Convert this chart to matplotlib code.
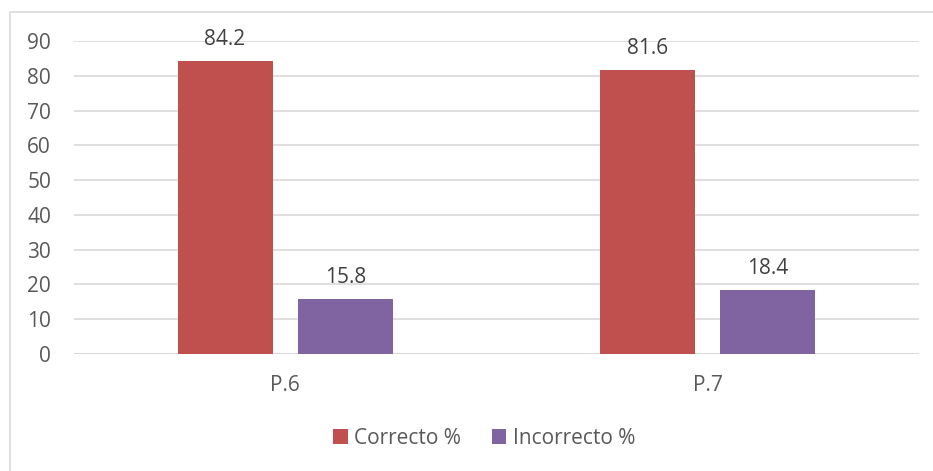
import matplotlib
matplotlib.use("Agg")
import matplotlib.pyplot as plt
from matplotlib.patches import Rectangle
import numpy as np

categories = ["P.6", "P.7"]
correcto = [84.2, 81.6]
incorrecto = [15.8, 18.4]
series_names = ["Correcto %", "Incorrecto %"]
colors = ["#C0504D", "#8064A2"]

plt.rcParams['font.family'] = ['Open Sans', 'DejaVu Sans']

fig = plt.figure(figsize=(9.33, 4.71), dpi=100)
ax = fig.add_axes([74/933, 1-354/471, (919-74)/933, (354-41)/471])

x = np.arange(len(categories))
w = 0.225
off = 0.1425
b1 = ax.bar(x - off, correcto, w, color=colors[0], label=series_names[0], zorder=3)
b2 = ax.bar(x + off, incorrecto, w, color=colors[1], label=series_names[1], zorder=3)

for bars, vals in ((b1, correcto), (b2, incorrecto)):
    for r, v in zip(bars, vals):
        ax.annotate(f"{v}", (r.get_x() + r.get_width()/2, v), xytext=(0, 8),
                    textcoords="offset points", ha="center", va="bottom",
                    fontsize=15, color="#404040")

ax.set_xlim(-0.5, 1.5)
ax.set_ylim(0, 90)
ax.set_yticks(range(0, 91, 10))
ax.set_xticks(x)
ax.set_xticklabels(categories)
ax.yaxis.grid(True, color="#D9D9D9", linewidth=1.2, zorder=0)
for s in ax.spines.values():
    s.set_visible(False)
ax.axhline(0, color="#D9D9D9", linewidth=1.2, zorder=1)
ax.tick_params(axis="both", length=0, labelsize=15, labelcolor="#595959")
ax.tick_params(axis="y", pad=16.5)
ax.tick_params(axis="x", pad=15)

leg = fig.legend(handles=[b1, b2], labels=series_names, loc="center",
                 bbox_to_anchor=(484/933, 1-438/471), ncol=2, frameon=False,
                 fontsize=15, handlelength=0.7, handleheight=0.7,
                 handletextpad=0.3, columnspacing=1.5)
for t in leg.get_texts():
    t.set_color("#595959")

fig.patches.append(Rectangle((10/933, -0.1), 1.2, 1 - 12/471 + 0.1,
                             transform=fig.transFigure, fill=False,
                             edgecolor="#D9D9D9", linewidth=1.2))

fig.savefig("out.png", dpi=100)
